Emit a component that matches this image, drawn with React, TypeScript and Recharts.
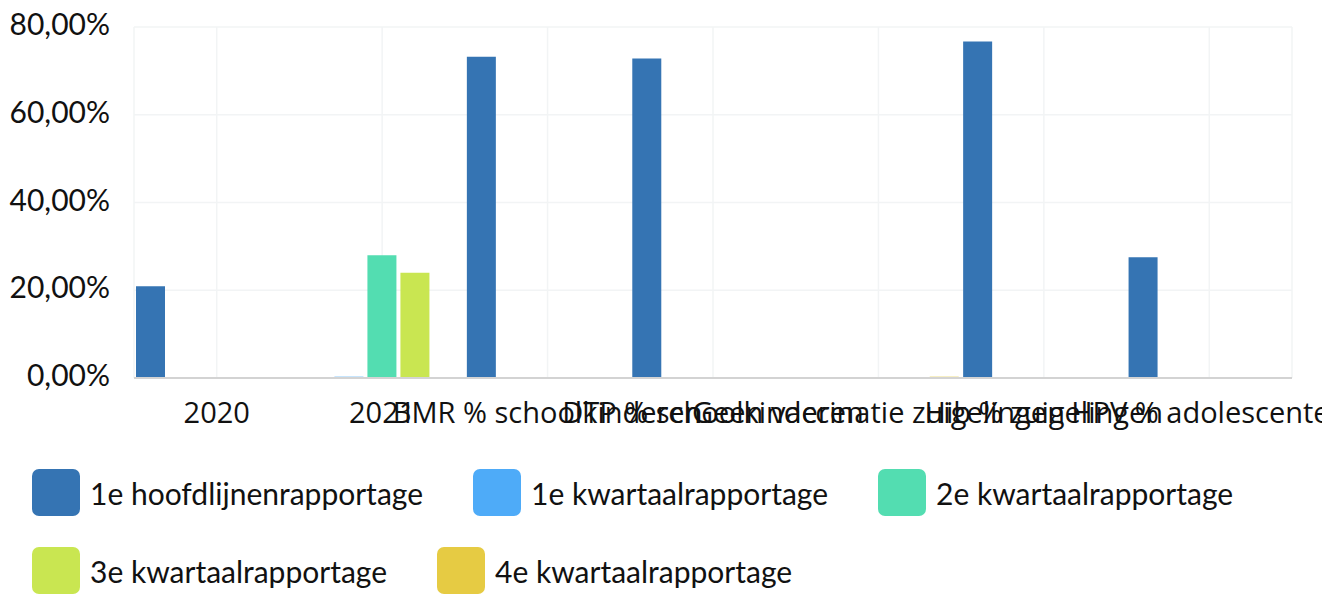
import { BarChart, Bar, XAxis, YAxis, CartesianGrid, Legend } from "recharts";

const categories = [
  "2020",
  "2021",
  "BMR % schoolkinderen",
  "DTP % schoolkinderen",
  "Geen vaccinatie zuigelingen",
  "Hib % zuigelingen",
  "HPV % adolescenten",
];

// values in percent
const hoofdlijnen1 = [20.9, null, 73.2, 72.8, null, 76.7, 27.5];
const kwartaal1 = [null, 0.3, null, null, null, null, null];
const kwartaal2 = [null, 28.0, null, null, null, null, null];
const kwartaal3 = [null, 24.0, null, null, null, null, null];
const kwartaal4 = [null, null, null, null, 0.3, null, null];

const yTicks = [0, 20, 40, 60, 80];

const series = [
  { key: "h1", name: "1e hoofdlijnenrapportage", color: "#3574b3", values: hoofdlijnen1 },
  { key: "k1", name: "1e kwartaalrapportage", color: "#4eabf8", values: kwartaal1 },
  { key: "k2", name: "2e kwartaalrapportage", color: "#53ddb1", values: kwartaal2 },
  { key: "k3", name: "3e kwartaalrapportage", color: "#c9e651", values: kwartaal3 },
  { key: "k4", name: "4e kwartaalrapportage", color: "#e6cb43", values: kwartaal4 },
];

const data = categories.map((name, i) => {
  const row: Record<string, string | number | null> = { name };
  series.forEach((s) => {
    row[s.key] = s.values[i];
  });
  return row;
});

const fmtPct = (v: number) => `${v.toFixed(2).replace(".", ",")}%`;

function XTick({ x, y, payload }: { x?: number; y?: number; payload?: { value: string } }) {
  return (
    <text
      x={x}
      y={y}
      dy="0.71em"
      textAnchor="middle"
      fontFamily="'Open Sans', sans-serif"
      fontSize={29}
      fill="#111"
    >
      {payload?.value}
    </text>
  );
}

function YTick({ x, y, payload }: { x?: number; y?: number; payload?: { value: number } }) {
  return (
    <text
      x={x}
      y={y}
      dy="0.27em"
      textAnchor="end"
      fontFamily="Lato, sans-serif"
      fontSize={30}
      fill="#111"
    >
      {fmtPct(payload?.value ?? 0)}
    </text>
  );
}

function LegendContent() {
  return (
    <div
      style={{
        display: "flex",
        flexWrap: "wrap",
        columnGap: 50,
        rowGap: 31,
        paddingLeft: 24,
        fontFamily: "Lato, sans-serif",
        fontSize: 30,
        color: "#111",
      }}
    >
      {series.map((s) => (
        <div key={s.key} style={{ display: "flex", alignItems: "center", height: 47 }}>
          <span
            style={{
              display: "inline-block",
              width: 48,
              height: 47,
              borderRadius: 7,
              background: s.color,
              marginRight: 10,
            }}
          />
          <span style={{ whiteSpace: "nowrap" }}>{s.name}</span>
        </div>
      ))}
    </div>
  );
}

export default function App() {
  return (
    <BarChart
      width={1314}
      height={586}
      data={data}
      margin={{ top: 19, right: 30, left: 0, bottom: 0 }}
      barCategoryGap={2}
      barGap={4}
    >
      <CartesianGrid stroke="#f2f4f5" strokeWidth={1.5} />
      <XAxis
        dataKey="name"
        interval={0}
        height={91}
        tick={<XTick />}
        tickLine={false}
        tickMargin={18}
        axisLine={{ stroke: "#d3d3d3", strokeWidth: 2 }}
      />
      <YAxis
        width={126}
        domain={[0, 80]}
        ticks={yTicks}
        tick={<YTick />}
        tickLine={false}
        tickMargin={18}
        axisLine={false}
      />
      <Legend
        verticalAlign="bottom"
        align="left"
        content={<LegendContent />}
        wrapperStyle={{ left: 0, width: 1314 }}
      />
      {series.map((s) => (
        <Bar key={s.key} dataKey={s.key} name={s.name} fill={s.color} isAnimationActive={false} />
      ))}
    </BarChart>
  );
}
